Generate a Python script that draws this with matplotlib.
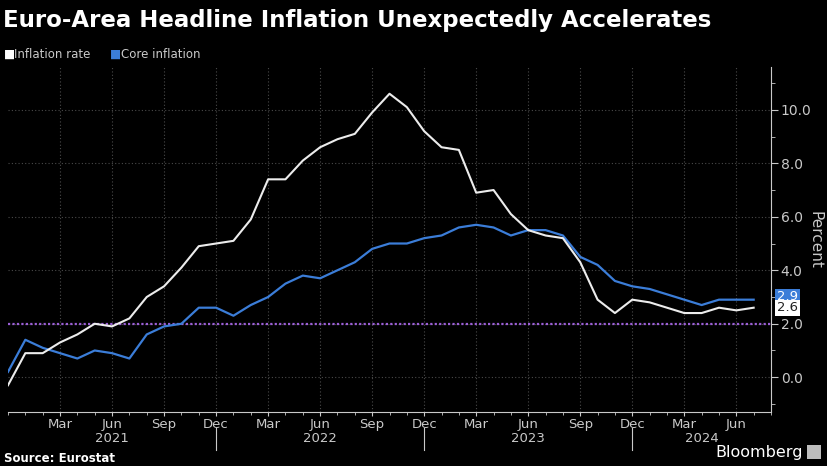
import numpy as np
import matplotlib
matplotlib.use("Agg")
import matplotlib.pyplot as plt
from matplotlib.ticker import MultipleLocator, FixedLocator

plt.rcParams['font.family'] = ['DejaVu Sans']

# monthly data, Dec 2020 .. Jul 2024
start_month = 'Dec 2020'
inflation = [-0.3, 0.9, 0.9, 1.3, 1.6, 2.0, 1.9, 2.2, 3.0, 3.4, 4.1, 4.9,
             5.0, 5.1, 5.9, 7.4, 7.4, 8.1, 8.6, 8.9, 9.1, 9.9, 10.6, 10.1,
             9.2, 8.6, 8.5, 6.9, 7.0, 6.1, 5.5, 5.3, 5.2, 4.3, 2.9, 2.4,
             2.9, 2.8, 2.6, 2.4, 2.4, 2.6, 2.5, 2.6]
core = [0.2, 1.4, 1.1, 0.9, 0.7, 1.0, 0.9, 0.7, 1.6, 1.9, 2.0, 2.6,
        2.6, 2.3, 2.7, 3.0, 3.5, 3.8, 3.7, 4.0, 4.3, 4.8, 5.0, 5.0,
        5.2, 5.3, 5.6, 5.7, 5.6, 5.3, 5.5, 5.5, 5.3, 4.5, 4.2, 3.6,
        3.4, 3.3, 3.1, 2.9, 2.7, 2.9, 2.9, 2.9]
target = 2.0

month_labels = ['Mar', 'Jun', 'Sep', 'Dec'] * 3 + ['Mar', 'Jun']
month_ticks = list(range(3, 3 + 3 * len(month_labels), 3))
years = ['2021', '2022', '2023', '2024']
year_pos = [6, 18, 30, 40]
year_breaks = [12, 24, 36]

BG = 'black'
WHITE = '#ececec'
BLUE = '#3b7dd8'
GREY = '#c9c9c9'
GRID = '#4a4a4a'

x = np.arange(len(inflation))

fig = plt.figure(figsize=(8.28, 4.66), dpi=100, facecolor=BG)
ax = fig.add_axes([8 / 828, 1 - 412 / 466, (771 - 8) / 828, (412 - 67) / 466])
ax.set_facecolor(BG)

ax.axhline(target, color='#9b5fd6', lw=1.6, ls=(0, (1, 1)), zorder=2)
ax.plot(x, core, color=BLUE, lw=1.6, zorder=3)
ax.plot(x, inflation, color=WHITE, lw=1.5, zorder=4)

ax.set_xlim(0, 44)
ax.set_ylim(-1.3, 11.6)

# axes / spines
for s in ['left', 'top']:
    ax.spines[s].set_visible(False)
ax.spines['right'].set_color(GREY)
ax.spines['bottom'].set_color(GREY)
ax.yaxis.tick_right()
ax.yaxis.set_major_locator(MultipleLocator(2))
ax.yaxis.set_minor_locator(MultipleLocator(1))
ax.yaxis.set_major_formatter(lambda v, p: f'{v:.1f}')
ax.tick_params(axis='y', which='major', colors=GREY, labelsize=10, length=5, pad=2)
ax.tick_params(axis='y', which='minor', colors=GREY, length=3)
ax.yaxis.set_label_position('right')
ax.set_ylabel('Percent', color=GREY, fontsize=11, rotation=270, labelpad=8)

ax.xaxis.set_major_locator(FixedLocator(month_ticks))
ax.xaxis.set_minor_locator(MultipleLocator(1))
ax.set_xticklabels(month_labels)
ax.tick_params(axis='x', which='major', colors=GREY, labelsize=9.5, length=3, pad=1)
ax.tick_params(axis='x', which='minor', colors=GREY, length=2)

ax.grid(True, which='major', color=GRID, lw=0.8, ls=(0, (1, 2)))

# year row
for yr, p in zip(years, year_pos):
    ax.text(p, -0.058, yr, transform=ax.get_xaxis_transform(), ha='center',
            va='top', color=GREY, fontsize=9.5)
for b in year_breaks:
    ax.plot([b, b], [-0.045, -0.11], transform=ax.get_xaxis_transform(),
            color=GREY, lw=0.8, clip_on=False)

# last-value tags
ax.text(44.35, core[-1] + 0.1, f'{core[-1]:.1f}', color='white', fontsize=9.5,
        va='center', ha='left', transform=ax.transData, clip_on=False,
        bbox=dict(boxstyle='square,pad=0.12', fc=BLUE, ec='none'), zorder=5)
ax.text(44.35, inflation[-1], f'{inflation[-1]:.1f}', color='#222222', fontsize=9.5,
        va='center', ha='left', transform=ax.transData, clip_on=False,
        bbox=dict(boxstyle='square,pad=0.12', fc='white', ec='none'), zorder=6)

# title + legend
fig.text(0.004, 0.955, 'Euro-Area Headline Inflation Unexpectedly Accelerates',
         color='white', fontsize=16.5, fontweight='bold', va='center', ha='left')
fig.text(0.005, 0.884, '■', color='white', fontsize=8.5, va='center', ha='left')
fig.text(0.017, 0.884, 'Inflation rate', color=GREY, fontsize=8.5, va='center', ha='left')
fig.text(0.133, 0.884, '■', color=BLUE, fontsize=8.5, va='center', ha='left')
fig.text(0.146, 0.884, 'Core inflation', color=GREY, fontsize=8.5, va='center', ha='left')

# footer
fig.text(0.005, 0.017, 'Source: Eurostat', color='white', fontsize=8.5,
         fontweight='bold', va='center', ha='left')
fig.text(0.970, 0.03, 'Bloomberg', color='white', fontsize=11.5,
         va='center', ha='right')
fig.patches.append(plt.Rectangle((0.975, 0.016), 0.016, 0.028, transform=fig.transFigure,
                                 fc='#bdbdbd', ec='none'))

fig.savefig('out.png', dpi=100, facecolor=BG)
